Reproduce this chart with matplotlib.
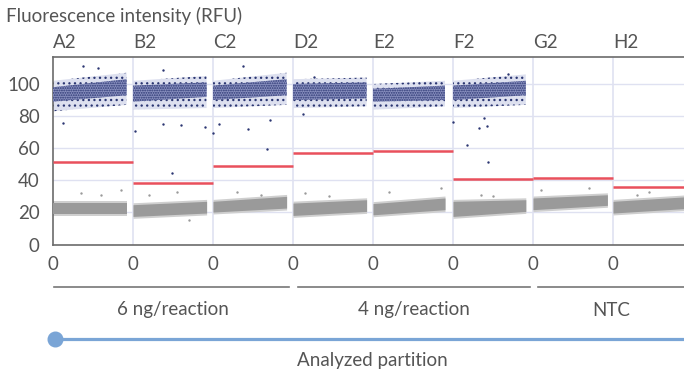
import matplotlib
matplotlib.use('Agg')
import matplotlib.pyplot as plt
from matplotlib.lines import Line2D

# ---------------- data ----------------
wells = ['A2', 'B2', 'C2', 'D2', 'E2', 'F2', 'G2', 'H2']
thresholds = [51.5, 38.5, 48.8, 56.7, 58.1, 41.0, 41.5, 35.8]

# fraction of each well's width occupied by droplets
droplet_extent = [0.92, 0.92, 0.92, 0.92, 0.90, 0.91, 0.93, 1.0]

# positive (upper, blue) cluster: dense core and sparse halo, value at start / end of the well
pos_core_lo_start = [89, 89, 90, 90, 89, 90, None, None]
pos_core_lo_end   = [93, 92, 93, 91, 90, 93, None, None]
pos_core_hi_start = [98, 99, 99, 100, 97, 99, None, None]
pos_core_hi_end   = [103, 101, 103, 101, 99, 102, None, None]
pos_halo_lo_start = [83, 84, 85, 85, 84, 85, None, None]
pos_halo_lo_end   = [87, 85, 87, 86, 86, 87, None, None]
pos_halo_hi_start = [102, 102, 102, 103, 100, 102, None, None]
pos_halo_hi_end   = [107, 105, 107, 104, 102, 106, None, None]

# negative (lower, gray) cluster
neg_lo_start = [19.0, 17.5, 20.2, 18.1, 18.5, 17.5, 21.7, 19.6]
neg_lo_end   = [19.0, 19.6, 22.7, 20.6, 21.7, 20.6, 24.4, 22.7]
neg_hi_start = [25.8, 24.8, 26.9, 25.8, 25.5, 26.9, 29.0, 26.9]
neg_hi_end   = [25.8, 26.9, 30.0, 27.9, 29.0, 27.9, 31.0, 30.0]

# isolated positive-colour droplets: (well index, fraction along well, RFU)
pos_out_well = [0, 0, 0, 1, 1, 1, 1, 1, 1, 2, 2, 2, 2, 2, 2, 3, 3, 5, 5, 5, 5, 5, 5, 5]
pos_out_frac = [0.12, 0.37, 0.56, 0.03, 0.37, 0.60, 0.90, 0.49, 0.37, 0.00, 0.08, 0.44, 0.71, 0.67, 0.38, 0.26, 0.13, 0.00, 0.39, 0.33, 0.42, 0.17, 0.44, 0.69]
pos_out_val  = [75.8, 111, 110, 70.6, 74.8, 74.4, 73.0, 44.6, 109, 69.6, 75.2, 72.0, 77.5, 59.6, 111, 104.6, 81, 76.2, 79, 72.7, 73.7, 62.3, 51.2, 106]

# isolated negative-colour droplets
neg_out_well = [0, 0, 0, 1, 1, 1, 2, 2, 3, 3, 4, 4, 5, 5, 6, 6, 7, 7]
neg_out_frac = [0.35, 0.60, 0.85, 0.20, 0.55, 0.70, 0.30, 0.60, 0.15, 0.45, 0.20, 0.85, 0.35, 0.50, 0.10, 0.70, 0.30, 0.45]
neg_out_val  = [32, 31, 34, 31, 33, 15, 33, 31, 32, 30, 33, 35, 31, 30, 34, 35, 31, 33]

group_names = ['6 ng/reaction', '4 ng/reaction', 'NTC']
y_ticks = [0, 20, 40, 60, 80, 100]

# ---------------- styling ----------------
NAVY = '#2b3672'
GRAY = '#9a9a9a'
RED = '#e9505c'
GRID = '#dfe1f1'
TEXT = '#555555'
FONT = ['Lato', 'DejaVu Sans']
plt.rcParams['font.family'] = FONT
plt.rcParams['hatch.linewidth'] = 0.9
FS = 13.5

W, H = 684, 378
fig = plt.figure(figsize=(W / 100, H / 100), dpi=100)
ax_left, ax_bottom = 53 / W, 1 - 244.5 / H
ax_top = 1 - 57.3 / H
ax = fig.add_axes([ax_left, ax_bottom, 1 - ax_left, ax_top - ax_bottom])
ax.set_xlim(0, (W - 53) / 80)
ax.set_ylim(0, (244.5 - 57.3) / 1.605)

for yv in y_ticks[1:]:
    ax.axhline(yv, color=GRID, lw=1.0, zorder=0)
for i in range(1, len(wells)):
    ax.axvline(i, color=GRID, lw=1.2, zorder=0)

for i in range(len(wells)):
    x0, x1 = i, i + droplet_extent[i]
    # negative cluster
    ax.fill_between([x0, x1], [neg_lo_start[i] - 1.2, neg_lo_end[i] - 1.2],
                    [neg_hi_start[i] + 1.2, neg_hi_end[i] + 1.2],
                    color='#cfcfcf', lw=0, zorder=2)
    ax.fill_between([x0, x1], [neg_lo_start[i], neg_lo_end[i]],
                    [neg_hi_start[i], neg_hi_end[i]], color=GRAY, lw=0, zorder=3)
    # positive cluster
    if pos_core_lo_start[i] is not None:
        ax.fill_between([x0, x1], [pos_halo_lo_start[i], pos_halo_lo_end[i]],
                        [pos_halo_hi_start[i], pos_halo_hi_end[i]],
                        facecolor='#dde0ef', edgecolor=NAVY, hatch='...', lw=0, zorder=2)
        ax.fill_between([x0, x1], [pos_core_lo_start[i], pos_core_lo_end[i]],
                        [pos_core_hi_start[i], pos_core_hi_end[i]],
                        facecolor='#8a91c0', edgecolor=NAVY, hatch='.......', lw=0, zorder=3)
    ax.hlines(thresholds[i], i, i + 1, color=RED, lw=1.8, zorder=5)

ax.scatter([w + f for w, f in zip(pos_out_well, pos_out_frac)], pos_out_val,
           s=3, color=NAVY, lw=0, zorder=4)
ax.scatter([w + f for w, f in zip(neg_out_well, neg_out_frac)], neg_out_val,
           s=3, color=GRAY, lw=0, zorder=4)

ax.spines['right'].set_visible(False)
for side in ['left', 'bottom', 'top']:
    ax.spines[side].set_color('#6b6b6b')
    ax.spines[side].set_linewidth(1.2)

ax.set_yticks(y_ticks)
ax.set_yticklabels([str(v) for v in y_ticks])
ax.set_xticks(range(len(wells)))
ax.set_xticklabels(['0'] * len(wells))
ax.tick_params(axis='both', length=0, labelsize=FS, colors=TEXT)
ax.tick_params(axis='y', pad=9.5)
ax.tick_params(axis='x', pad=8.5)

fig.text(6 / W, 1 - 16 / H, 'Fluorescence intensity (RFU)', fontsize=FS,
         color=TEXT, ha='left', va='center')
for i, w in enumerate(wells):
    fig.text((53 + 80 * i) / W, 1 - 42 / H, w, fontsize=FS, color=TEXT,
             ha='left', va='center')

# group brackets
grp_segments = [(53.7, 289.3), (297.6, 530.0), (538.0, 684.0)]
grp_centers = [173, 414, 611]
for (a, b), c, name in zip(grp_segments, grp_centers, group_names):
    fig.add_artist(Line2D([a / W, b / W], [1 - 287.3 / H] * 2, color='#777777', lw=1.2))
    fig.text(c / W, 1 - 310 / H, name, fontsize=FS, color=TEXT, ha='center', va='center')

fig.add_artist(Line2D([54.7 / W, 1.0], [1 - 339.3 / H] * 2, color='#7aa5d6', lw=2.3))
fig.add_artist(Line2D([54.7 / W], [1 - 339.3 / H], marker='o', markersize=10.5,
                      color='#7aa5d6', lw=0))
fig.text(372 / W, 1 - 360.7 / H, 'Analyzed partition', fontsize=FS, color=TEXT,
         ha='center', va='center')

fig.savefig('out.png', dpi=100)
